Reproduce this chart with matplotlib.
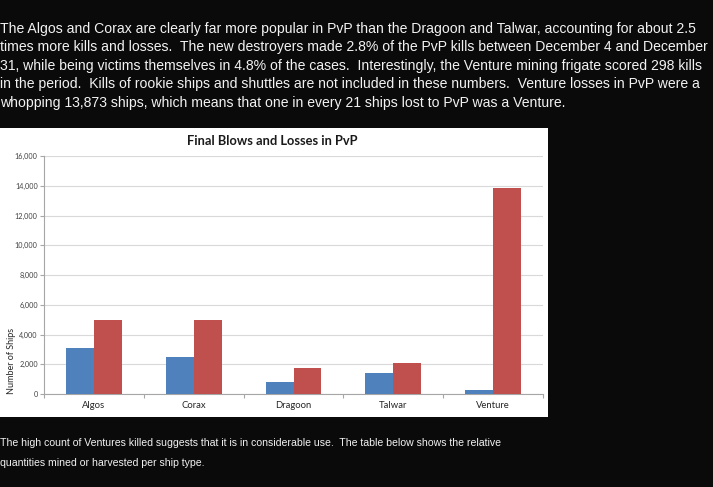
import numpy as np
import matplotlib
matplotlib.use("Agg")
import matplotlib.pyplot as plt
from matplotlib.patches import Rectangle

ships = ["Algos", "Corax", "Dragoon", "Talwar", "Venture"]
final_blows = [3110, 2500, 830, 1430, 298]
losses = [4960, 4960, 1770, 2060, 13873]
y_ticks = [0, 2000, 4000, 6000, 8000, 10000, 12000, 14000, 16000]

intro_lines = [
    "The Algos and Corax are clearly far more popular in PvP than the Dragoon and Talwar, accounting for about 2.5",
    "times more kills and losses.  The new destroyers made 2.8% of the PvP kills between December 4 and December",
    "31, while being victims themselves in 4.8% of the cases.  Interestingly, the Venture mining frigate scored 298 kills",
    "in the period.  Kills of rookie ships and shuttles are not included in these numbers.  Venture losses in PvP were a",
    "whopping 13,873 ships, which means that one in every 21 ships lost to PvP was a Venture.",
]
outro_lines = [
    "The high count of Ventures killed suggests that it is in considerable use.  The table below shows the relative",
    "quantities mined or harvested per ship type.",
]

W, H = 713, 487
BLUE = "#4F81BD"
RED = "#C0504D"


def fx(px):
    return px / W


def fy(py):
    return 1 - py / H


fig = plt.figure(figsize=(W / 100, H / 100), dpi=100)
fig.patch.set_facecolor("#0a0a0a")

# page text above the chart
for i, line in enumerate(intro_lines):
    fig.text(fx(0), fy(32.5 + i * 18.6), line, color="#f2f2f2",
             fontsize=10.1, family="Liberation Sans", va="baseline", ha="left")

# white chart panel
fig.patches.append(Rectangle((0, fy(417)), fx(548), fy(128) - fy(417),
                             transform=fig.transFigure, facecolor="white",
                             edgecolor="none", zorder=-1))

ax = fig.add_axes([fx(44), fy(394), fx(543 - 44), fy(156) - fy(394)])
ax.set_zorder(2)
ax.set_facecolor("white")
x = np.arange(len(ships))
w = 0.28
ax.bar(x - w / 2, final_blows, width=w, color=BLUE, zorder=3)
ax.bar(x + w / 2, losses, width=w, color=RED, zorder=3)

ax.set_xlim(-0.5, len(ships) - 0.5)
ax.set_ylim(0, 16000)
ax.set_yticks(y_ticks)
ax.set_yticklabels([f"{v:,}" for v in y_ticks], fontsize=5.2, family="Lato", color="#404040")
ax.yaxis.grid(True, color="#d9d9d9", linewidth=0.8, zorder=0)
ax.set_axisbelow(True)

ax.set_xticks(x)
ax.set_xticklabels(ships, fontsize=6.8, family="Lato", color="#262626")
ax.tick_params(axis="x", length=0, pad=5)
ax.set_xticks(np.arange(-0.5, len(ships)), minor=True)
ax.tick_params(axis="x", which="minor", length=3, color="#a6a6a6", width=0.8)
ax.tick_params(axis="y", length=3, color="#a6a6a6", width=0.8, pad=1.5)

for s in ["top", "right"]:
    ax.spines[s].set_visible(False)
for s in ["left", "bottom"]:
    ax.spines[s].set_color("#a6a6a6")
    ax.spines[s].set_linewidth(0.8)

fig.text(fx(272), fy(141), "Final Blows and Losses in PvP", fontsize=9.3,
         fontweight="bold", family="Lato", color="#1a1a1a", ha="center", va="center")
fig.text(fx(12), fy(361), "Number of Ships", rotation=90, fontsize=6.5,
         family="Lato", color="#262626", ha="center", va="center")

# page text below the chart (narrow face in the original)
for i, line in enumerate(outro_lines):
    fig.text(fx(0), fy(446 + i * 19.5), line, color="#f2f2f2",
             fontsize=7.6, family="Liberation Sans",
             va="baseline", ha="left")

fig.savefig("out.png", dpi=100, facecolor=fig.get_facecolor())
